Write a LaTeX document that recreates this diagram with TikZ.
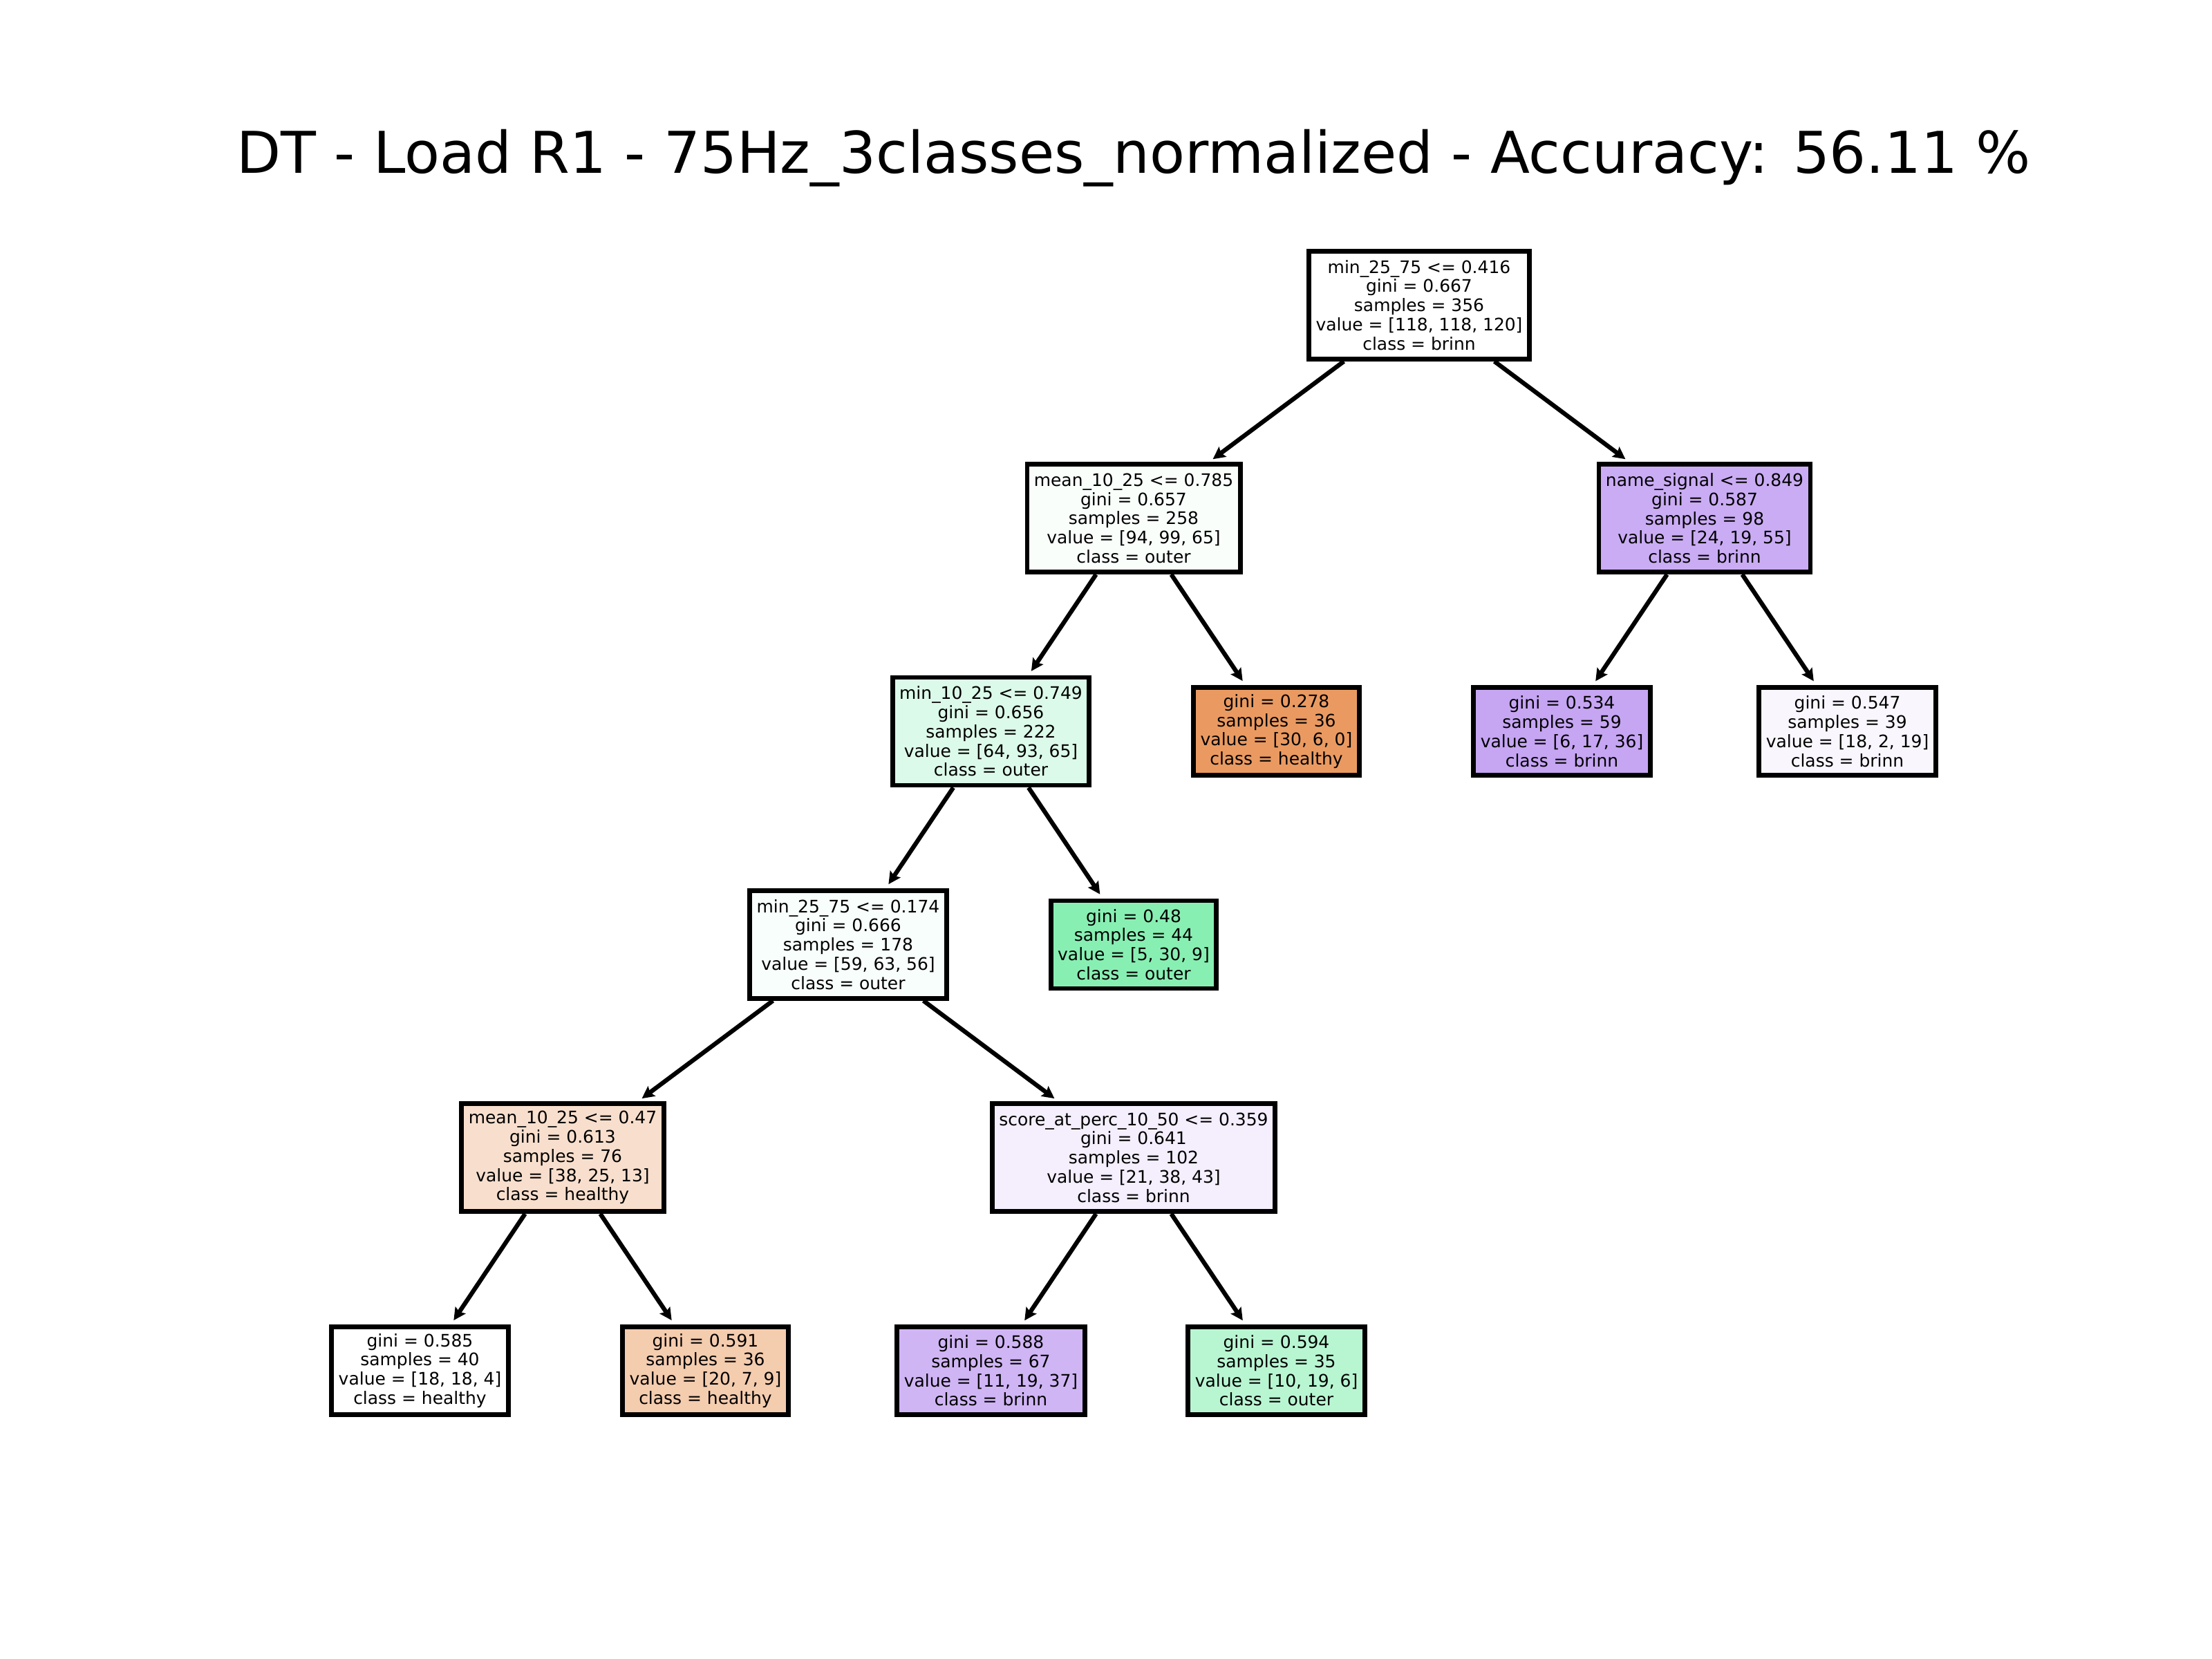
\documentclass[tikz,border=0pt]{standalone}
\usepackage{fontspec}
\setmainfont{DejaVu Sans}
\usetikzlibrary{
        arrows.meta,
        positioning
    }
\definecolor{outerA}{HTML}{F9FEFB}
\definecolor{outerB}{HTML}{DCFAE9}
\definecolor{outerC}{HTML}{F8FEFB}
\definecolor{outerD}{HTML}{88EFB3}
\definecolor{outerE}{HTML}{B8F6D2}
\definecolor{brinnA}{HTML}{CAACF4}
\definecolor{brinnB}{HTML}{C6A5F3}
\definecolor{brinnC}{HTML}{F9F6FE}
\definecolor{brinnD}{HTML}{F4EEFD}
\definecolor{brinnE}{HTML}{D0B5F5}
\definecolor{healthyA}{HTML}{EA9A61}
\definecolor{healthyB}{HTML}{F8DFCD}
\definecolor{healthyC}{HTML}{F4CCAE}
\tikzset{>={Stealth[length=5pt,width=5pt,inset=0.8pt]},shorten >=2pt,auto,node distance=3.083cm and 2.065cm}
\tikzset{split/.style={rectangle,draw,line width=1.9pt,align=center,inner sep=0.1cm,
        minimum height=1.56cm,font=\fontsize{7.1}{7.9}\selectfont}}
\tikzset{leaf/.style={split,minimum height=1.27cm}}

\begin{document}
\begin{tikzpicture}[on grid]
                \useasboundingbox (0,0) rectangle (32,24);
                \node[anchor=base] (title) at (16.40,21.49)
                    {\fontsize{23.7}{28}\selectfont DT - Load R1 - 75Hz\_3classes\_normalized - Accuracy: 56.11 \%};
                \node[split,fill=white] (a1) at (20.53,19.585)
                    {min\_25\_75 <= 0.416\\gini = 0.667\\samples = 356\\value = [118, 118, 120]\\class = brinn};
                \node[split,fill=outerA] (b1) [below left=3.083cm and 4.13cm of a1]
                    {mean\_10\_25 <= 0.785\\gini = 0.657\\samples = 258\\value = [94, 99, 65]\\class = outer};
                \node[split,fill=brinnA] (b2) [below right=3.083cm and 4.13cm of a1]
                    {name\_signal <= 0.849\\gini = 0.587\\samples = 98\\value = [24, 19, 55]\\class = brinn};
                \node[split,fill=outerB] (c1) [below left=of b1]
                    {min\_10\_25 <= 0.749\\gini = 0.656\\samples = 222\\value = [64, 93, 65]\\class = outer};
                \node[leaf,fill=healthyA] (c2) [below right=of b1]
                    {gini = 0.278\\samples = 36\\value = [30, 6, 0]\\class = healthy};
                \node[leaf,fill=brinnB] (c3) [below left=of b2]
                    {gini = 0.534\\samples = 59\\value = [6, 17, 36]\\class = brinn};
                \node[leaf,fill=brinnC] (c4) [below right=of b2]
                    {gini = 0.547\\samples = 39\\value = [18, 2, 19]\\class = brinn};
                \node[split,fill=outerC] (d1) [below left=of c1]
                    {min\_25\_75 <= 0.174\\gini = 0.666\\samples = 178\\value = [59, 63, 56]\\class = outer};
                \node[leaf,fill=outerD] (d2) [below right=of c1]
                    {gini = 0.48\\samples = 44\\value = [5, 30, 9]\\class = outer};
                \node[split,fill=healthyB] (e1) [below left=3.083cm and 4.13cm of d1]
                    {mean\_10\_25 <= 0.47\\gini = 0.613\\samples = 76\\value = [38, 25, 13]\\class = healthy};
                \node[split,fill=brinnD] (e2) [below right=3.083cm and 4.13cm of d1]
                    {score\_at\_perc\_10\_50 <= 0.359\\gini = 0.641\\samples = 102\\value = [21, 38, 43]\\class = brinn};
                \node[leaf,fill=white] (f1) [below left=of e1]
                    {gini = 0.585\\samples = 40\\value = [18, 18, 4]\\class = healthy};
                \node[leaf,fill=healthyC] (f2) [below right=of e1]
                    {gini = 0.591\\samples = 36\\value = [20, 7, 9]\\class = healthy};
                \node[leaf,fill=brinnE] (f3) [below left=of e2]
                    {gini = 0.588\\samples = 67\\value = [11, 19, 37]\\class = brinn};
                \node[leaf,fill=outerE] (f4) [below right=of e2]
                    {gini = 0.594\\samples = 35\\value = [10, 19, 6]\\class = outer};
                \path[->,line width=1.8pt]
                    (a1) edge (b1)
                    (a1) edge (b2)
                    (b1) edge (c1)
                    (b1) edge (c2)
                    (b2) edge (c3)
                    (b2) edge (c4)
                    (c1) edge (d1)
                    (c1) edge (d2)
                    (d1) edge (e1)
                    (d1) edge (e2)
                    (e1) edge (f1)
                    (e1) edge (f2)
                    (e2) edge (f3)
                    (e2) edge (f4)
                ;
            \end{tikzpicture}
\end{document}
